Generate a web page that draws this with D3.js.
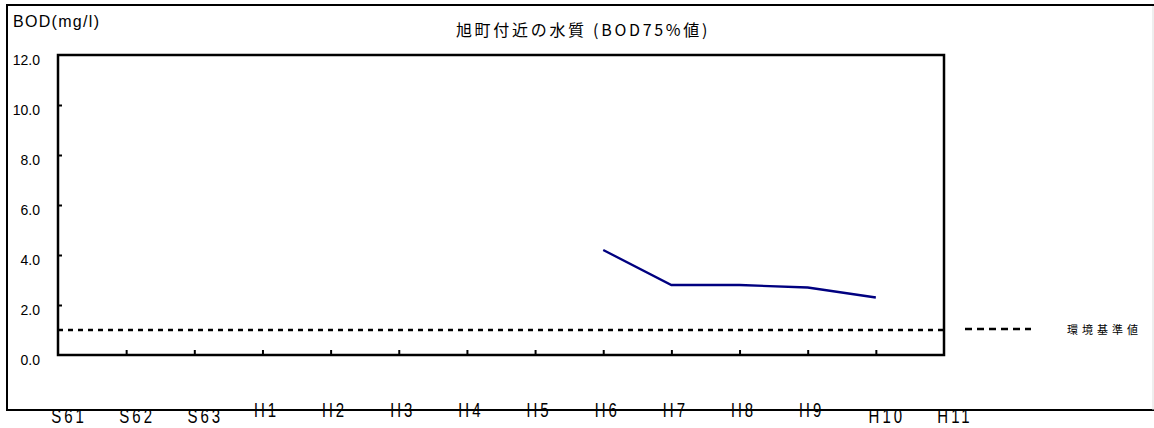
<!DOCTYPE html>
<html>
<head>
<meta charset="utf-8">
<script src="https://cdn.jsdelivr.net/npm/d3@7"></script>
<style>
  body { margin: 0; background: #fff; }
  text { font-family: "Liberation Sans", Arial, sans-serif; fill: #000; }
  .jp { font-family: "Noto Sans CJK JP", sans-serif; }
</style>
</head>
<body>
<div id="chart"></div>
<script>
// data
var categories = ["S61", "S62", "S63", "H1", "H2", "H3", "H4", "H5", "H6", "H7", "H8", "H9", "H10", "H11"];
var bodValues = [null, null, null, null, null, null, null, null, 4.2, 2.8, 2.8, 2.7, 2.3, null];
var standardValue = 1.0;
var yTicks = [0, 2, 4, 6, 8, 10, 12];

var svgWidth = 1154;
var svgHeight = 428;

var plot = { left: 58, right: 944, top: 55, bottom: 355 };

var svg = d3.select("#chart")
  .append("svg")
  .attr("width", svgWidth)
  .attr("height", svgHeight);

var xScale = d3.scalePoint()
  .domain(categories)
  .range([plot.left, plot.right]);

var yScale = d3.scaleLinear()
  .domain([0, 12])
  .range([plot.bottom, plot.top]);

// outer frame
svg.append("path")
  .attr("d", `M${svgWidth},5 H7 V410 H${svgWidth}`)
  .attr("fill", "none")
  .attr("stroke", "#000")
  .attr("stroke-width", 2);
svg.append("line")
  .attr("x1", svgWidth - 1).attr("x2", svgWidth - 1)
  .attr("y1", 6).attr("y2", 410)
  .attr("stroke", "#ddd");

// title + y unit
svg.append("text")
  .attr("class", "jp")
  .attr("x", 583)
  .attr("y", 36)
  .attr("text-anchor", "middle")
  .style("font-size", "16px")
  .style("letter-spacing", "2.7px")
  .text("旭町付近の水質 (BOD75%値)");

svg.append("text")
  .attr("x", 13)
  .attr("y", 27)
  .style("font-size", "16px")
  .style("letter-spacing", "1.3px")
  .text("BOD(mg/l)");

// y axis labels and inward ticks
var yAxis = d3.axisRight(yScale)
  .tickValues(yTicks.slice(1, -1))
  .tickSize(4)
  .tickFormat("");
svg.append("g")
  .attr("transform", `translate(${plot.left},0)`)
  .call(yAxis)
  .call(g => g.select(".domain").remove())
  .call(g => g.selectAll("line").attr("stroke-width", 2));

svg.append("g")
  .selectAll("text")
  .data(yTicks)
  .enter()
  .append("text")
  .attr("x", 40)
  .attr("y", d => yScale(d) + 10)
  .attr("text-anchor", "end")
  .style("font-size", "14px")
  .text(d => d.toFixed(1));

// x ticks pointing up
var xAxis = d3.axisTop(xScale)
  .tickValues(categories.slice(1, -1))
  .tickSize(5)
  .tickFormat("");
svg.append("g")
  .attr("transform", `translate(0,${plot.bottom})`)
  .call(xAxis)
  .call(g => g.select(".domain").remove())
  .call(g => g.selectAll("line").attr("stroke-width", 2));

// x labels, staggered like the original
svg.append("g")
  .selectAll("text")
  .data(categories)
  .enter()
  .append("text")
  .attr("transform", d => {
    var lower = d.length === 3;
    var x = xScale(d) + (lower ? 11 : 4);
    var y = lower ? 423 : 417;
    return `translate(${x},${y}) scale(1,1.3)`;
  })
  .attr("text-anchor", "middle")
  .style("font-size", "15px")
  .style("letter-spacing", "3px")
  .text(d => d);

// environmental standard line
svg.append("line")
  .attr("x1", plot.left)
  .attr("x2", plot.right)
  .attr("y1", yScale(standardValue))
  .attr("y2", yScale(standardValue))
  .attr("stroke", "#000")
  .attr("stroke-width", 2.5)
  .attr("stroke-dasharray", "5,5");

// BOD line
var line = d3.line()
  .defined(d => d.value != null)
  .x(d => xScale(d.cat))
  .y(d => yScale(d.value));

svg.append("path")
  .datum(categories.map((c, i) => ({ cat: c, value: bodValues[i] })))
  .attr("fill", "none")
  .attr("stroke", "#000080")
  .attr("stroke-width", 2.3)
  .attr("d", line);

// plot frame
svg.append("rect")
  .attr("x", plot.left)
  .attr("y", plot.top)
  .attr("width", plot.right - plot.left)
  .attr("height", plot.bottom - plot.top)
  .attr("fill", "none")
  .attr("stroke", "#000")
  .attr("stroke-width", 2.5);

// legend
svg.append("line")
  .attr("x1", 965)
  .attr("x2", 1031)
  .attr("y1", yScale(standardValue) - 1)
  .attr("y2", yScale(standardValue) - 1)
  .attr("stroke", "#000")
  .attr("stroke-width", 2.5)
  .attr("stroke-dasharray", "7,5");

svg.append("text")
  .attr("class", "jp")
  .attr("x", 1067)
  .attr("y", 334)
  .style("font-size", "11px")
  .style("letter-spacing", "4px")
  .text("環境基準値");
</script>
</body>
</html>
